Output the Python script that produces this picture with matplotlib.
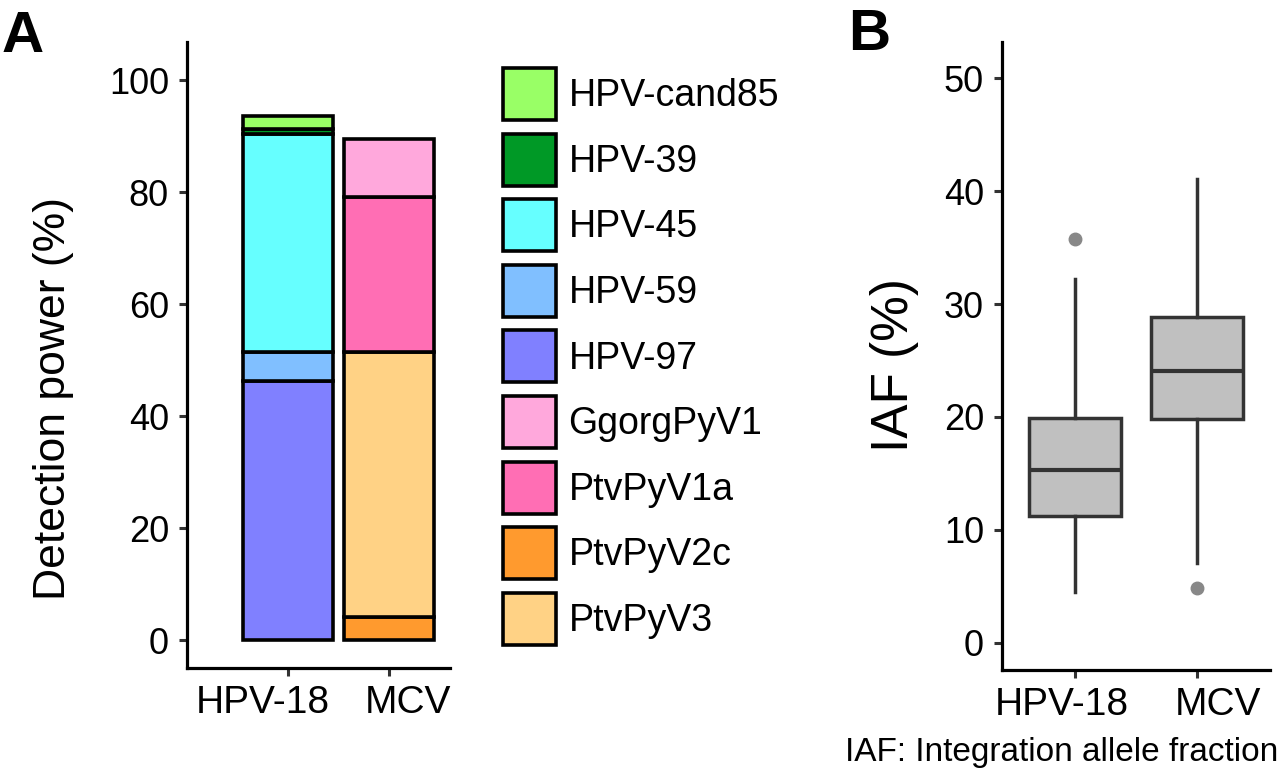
import matplotlib
matplotlib.use("Agg")
import matplotlib.pyplot as plt
from matplotlib.patches import Patch
from matplotlib.transforms import ScaledTranslation
import numpy as np

plt.rcParams['font.family'] = ['Liberation Sans', 'DejaVu Sans']

# panel A: detection power (%), stacked per virus
groups = ["HPV-18", "MCV"]
# stacking order bottom -> top
hpv18_types = ["HPV-97", "HPV-59", "HPV-45", "HPV-39", "HPV-cand85"]
hpv18_vals = [46.3, 5.2, 38.9, 0.8, 2.3]
mcv_types = ["PtvPyV2c", "PtvPyV3", "PtvPyV1a", "GgorgPyV1"]
mcv_vals = [4.1, 47.4, 27.7, 10.2]

legend_order = ["HPV-cand85", "HPV-39", "HPV-45", "HPV-59", "HPV-97",
                "GgorgPyV1", "PtvPyV1a", "PtvPyV2c", "PtvPyV3"]
colors = {
    "HPV-cand85": "#99ff66",
    "HPV-39": "#009926",
    "HPV-45": "#66ffff",
    "HPV-59": "#80bfff",
    "HPV-97": "#8080ff",
    "GgorgPyV1": "#ffa8dc",
    "PtvPyV1a": "#ff6eb4",
    "PtvPyV2c": "#ff9a2e",
    "PtvPyV3": "#ffd285",
}

# panel B: IAF (%) box stats
iaf_q1 = [11.2, 19.8]
iaf_med = [15.3, 24.1]
iaf_q3 = [19.9, 28.85]
iaf_lo = [4.5, 7.05]
iaf_hi = [32.2, 41.1]
iaf_out = [[35.8], [4.9]]

fig = plt.figure(figsize=(12.8, 7.78), dpi=100)

axA = fig.add_axes([187/1280, 1-668/778, 263/1280, 626/778])
axB = fig.add_axes([1002/1280, 1-670/778, 268/1280, 628/778])

lw_edge = 2.6
bottom = 0
for t, v in zip(hpv18_types, hpv18_vals):
    axA.bar(1, v, bottom=bottom, width=0.89, color=colors[t],
            edgecolor="black", linewidth=lw_edge)
    bottom += v
bottom = 0
for t, v in zip(mcv_types, mcv_vals):
    axA.bar(2, v, bottom=bottom, width=0.89, color=colors[t],
            edgecolor="black", linewidth=lw_edge)
    bottom += v

axA.set_xlim(0, 2.6)
axA.set_ylim(-5, 106.8)
axA.set_xticks([1, 2])
axA.set_xticklabels(groups)
axA.set_yticks([0, 20, 40, 60, 80, 100])
axA.set_ylabel("Detection power (%)", fontsize=32)
axA.yaxis.set_label_coords(-0.43, 0.43)

stats = []
for i in range(2):
    stats.append(dict(q1=iaf_q1[i], med=iaf_med[i], q3=iaf_q3[i],
                      whislo=iaf_lo[i], whishi=iaf_hi[i], fliers=iaf_out[i]))
edge = "#333333"
axB.bxp(stats, positions=[1, 2], widths=0.75, patch_artist=True,
        showcaps=False,
        boxprops=dict(facecolor="#c0c0c0", edgecolor=edge, linewidth=2.5),
        medianprops=dict(color=edge, linewidth=3),
        whiskerprops=dict(color=edge, linewidth=2.5),
        flierprops=dict(marker="o", markerfacecolor="#888888",
                        markeredgecolor="#888888", markersize=9))
axB.set_xlim(0.4, 2.6)
axB.set_ylim(-2.4, 53.2)
axB.set_xticks([1, 2])
axB.set_xticklabels(groups)
axB.set_yticks([0, 10, 20, 30, 40, 50])
axB.set_ylabel("IAF (%)", fontsize=37)
axB.yaxis.set_label_coords(-0.31, 0.486)

for ax in (axA, axB):
    for s in ("top", "right"):
        ax.spines[s].set_visible(False)
    for s in ("left", "bottom"):
        ax.spines[s].set_linewidth(2.3)
        ax.spines[s].set_color("black")
    ax.tick_params(axis="both", length=6, width=2.2, color="#333333")
    ax.tick_params(axis="y", labelsize=26, pad=7)
    ax.tick_params(axis="x", labelsize=28, pad=6)

# nudge the x labels apart like in the original
shifts = {axA: [-25, 19], axB: [-13, 21]}
for ax, dxs in shifts.items():
    for lab, dx in zip(ax.get_xticklabels(), dxs):
        lab.set_transform(lab.get_transform() +
                          ScaledTranslation(dx/100, 0, fig.dpi_scale_trans))

handles = [Patch(facecolor=colors[t], edgecolor="black", linewidth=lw_edge, label=t)
           for t in legend_order]
fig.legend(handles=handles, loc="upper left", bbox_to_anchor=(503/1280, 1-68/778),
           frameon=False, fontsize=27, handlelength=1.42, handleheight=1.76,
           labelspacing=0.36, handletextpad=0.33, borderpad=0, borderaxespad=0)

fig.text(2/1280, 1-52/778, "A", fontsize=42, fontweight="bold", va="baseline")
fig.text(848/1280, 1-50/778, "B", fontsize=42, fontweight="bold", va="baseline")
fig.text(0.999, 1-752/778, "IAF: Integration allele fraction", fontsize=24,
         ha="right", va="center")

fig.savefig("out.png", dpi=100)
